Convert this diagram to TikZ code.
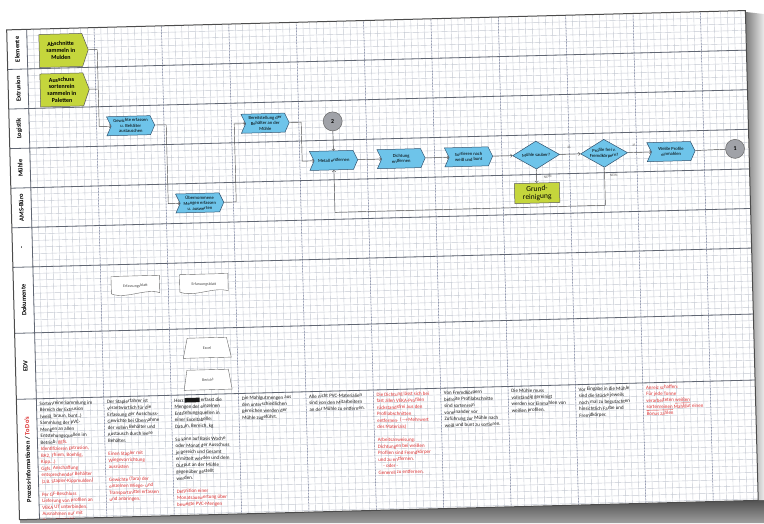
\documentclass[tikz,border=0pt]{standalone}
\usepackage{fontspec}
\setmainfont{Carlito}
\usetikzlibrary{shapes.symbols,shapes.geometric}
\definecolor{procblue}{RGB}{110,196,234}
\definecolor{procedge}{RGB}{50,82,110}
\definecolor{elemgreen}{RGB}{197,214,60}
\definecolor{connfill}{RGB}{160,162,168}
\definecolor{todored}{RGB}{220,48,48}
\definecolor{gridgrey}{RGB}{196,201,210}
\definecolor{laneline}{RGB}{96,102,114}
\definecolor{divblue}{RGB}{66,76,120}
\newcommand{\redtxt}[1]{\textcolor{todored}{#1}}
\tikzset{
	gridl/.style={draw=gridgrey, line width=0.4pt},
	lane/.style={draw=laneline, line width=0.8pt},
	coldiv/.style={draw=divblue, line width=0.5pt, densely dotted},
	lanelabel/.style={rotate=90, inner sep=0pt, font=\fontsize{6.5}{7}\selectfont\bfseries},
	elem/.style={shape=signal, signal to=east, signal pointer angle=140, fill=elemgreen, draw=black!65, line width=0.5pt, minimum width=49pt, minimum height=33pt, inner sep=0.5pt, align=center, font=\fontsize{6}{6.8}\selectfont\bfseries},
	proc/.style={shape=signal, signal to=east, signal from=west, signal pointer angle=130, fill=procblue, draw=procedge, line width=0.5pt, minimum width=48pt, minimum height=19pt, inner sep=0.5pt, align=center, font=\fontsize{4.6}{5.4}\selectfont},
	dec/.style={diamond, aspect=1.7, fill=procblue, draw=procedge, line width=0.5pt, minimum width=47pt, minimum height=28pt, inner sep=0pt, align=center, font=\fontsize{4.6}{5.4}\selectfont},
	conn/.style={circle, fill=connfill, draw=black!60, line width=0.5pt, minimum size=19pt, inner sep=0pt, font=\fontsize{6}{7}\selectfont\bfseries},
	docu/.style={minimum width=48pt, minimum height=17pt, inner sep=0pt},
	docline/.style={fill=white, draw=black!60, line width=0.4pt},
	doctext/.style={inner sep=0pt, font=\fontsize{4}{5}\selectfont, text=black!70},
	sysin/.style={trapezium, trapezium left angle=72, trapezium right angle=72, trapezium stretches=true, fill=white, draw=black!60, line width=0.4pt, minimum width=48pt, minimum height=20pt, inner sep=0pt, font=\fontsize{4}{5}\selectfont, text=black!70},
	flow/.style={draw=black!70, line width=0.45pt},
	yn/.style={inner sep=0.5pt, font=\fontsize{3.8}{4}\selectfont, text=black!60},
	note/.style={anchor=north west, align=left, inner sep=0pt, font=\fontsize{5}{6.5}\selectfont, text=black!90},
}
\begin{document}
\begin{tikzpicture}[x=1pt,y=-1pt]
	\useasboundingbox (0,0) rectangle (764,523);
	% shadow
	\shade[top color=black!75, bottom color=black!38] (20,523) -- (20,517) -- (764,495) -- (764,523) -- cycle;
	\shade[left color=black!50, right color=black!8] (746,12) -- (764,14) -- (764,500) -- (754,500) -- cycle;
	\begin{scope}[rotate around={1.5:(387,267)}, transform shape]
		\fill[white] (13,20) rectangle (752,510); % sheet
		\foreach \gx in {0,...,106} \draw[gridl] ({33+6.74*\gx},20) -- ({33+6.74*\gx},510);
		\foreach \gy in {1,...,74} \draw[gridl] (33,{20+6.6*\gy}) -- (752,{20+6.6*\gy});
		\foreach \k in {1,...,10} \draw[coldiv] ({33+67.4*\k},20) -- ({33+67.4*\k},510);
		\foreach \ly in {59.6,99.2,138.8,178.4,218,257.6,323.6,389.6} \draw[lane] (13,\ly) -- (752,\ly);
		\draw[lane] (33,20) -- (33,510);
		\draw[line width=1pt, draw=black!70] (13,20) rectangle (752,510);

		% lanes
		\node[lanelabel] (lElem) at (23,39.8) {Elemente};
		\node[lanelabel] (lExtr) at (23,79.4) {Extrusion};
		\node[lanelabel] (lLog) at (23,119) {Logistik};
		\node[lanelabel] (lMuehle) at (23,158.6) {Mühle};
		\node[lanelabel] (lAms) at (23,198.2) {AMS-Büro};
		\node[lanelabel] (lLeer) at (23,237.8) {-};
		\node[lanelabel] (lDok) at (23,290.6) {Dokumente};
		\node[lanelabel] (lEdv) at (23,356.6) {EDV};
		\node[lanelabel] (lInfo) at (23,450) {Prozess-Informationen / \redtxt{To Do's}};

		% process
		\node[elem] (elemMulden) at (66.5,42) {Abschnitte\\sammeln in\\Mulden};
		\node[elem] (elemPaletten) at (66.5,81.5) {Ausschuss\\sortenrein\\sammeln in\\Paletten};
		\node[proc] (gewichte) at (134.5,119) {Gewichte erfassen\\u. Behälter\\austauschen};
		\node[proc] (mengen) at (201.5,198) {Übernommene\\Mengen erfassen\\u. auswerten};
		\node[proc] (bereit) at (269,120) {Bereitstellung der\\Behälter an der\\Mühle};
		\node[conn] (con2) at (336.5,120) {2};
		\node[proc] (metall) at (336.5,159) {Metall entfernen};
		\node[proc] (dichtung) at (404,159) {Dichtung\\entfernen};
		\node[proc] (sortieren) at (471.5,159) {Sortieren nach\\weiß und bunt};
		\node[dec] (sauber) at (539,159) {Mühle sauber?};
		\node[draw=black!65, fill=elemgreen, line width=0.5pt, minimum width=45pt, minimum height=20pt, inner sep=0pt, align=center, font=\fontsize{7.5}{8}\selectfont] (grundrein) at (539,197) {Grund-\\reinigung};
		\node[dec] (fremd) at (607,159) {Profile frei v.\\Fremdkörpern?};
		\node[proc] (einmahlen) at (674,159) {Weiße Profile\\einmahlen};
		\node[conn] (con1) at (738,158) {1};

		\node[yn] (ja1) at (572,152) {JA};
		\node[yn] (ja2) at (637,152) {JA};
		\node[yn] (nein1) at (550,181) {NEIN};
		\node[yn] (nein2) at (616,181) {NEIN};

		% connectors
		\coordinate (b1) at (103,42); \coordinate (b2) at (103,81.5); \coordinate (b3) at (103,119);
		\draw[flow,->] (elemMulden.east) -- (b1) -- (b3) -- (gewichte.west);
		\draw[flow] (elemPaletten.east) -- (b2);
		\coordinate (b4) at (170,119); \coordinate (b5) at (170,198);
		\draw[flow,->] (gewichte.east) -- (b4) -- (b5) -- (mengen.west);
		\coordinate (b6) at (238,198); \coordinate (b7) at (238,120);
		\draw[flow,->] (mengen.east) -- (b6) -- (b7) -- (bereit.west);
		\coordinate (b8) at (305,120); \coordinate (b9) at (305,159);
		\draw[flow,->] (bereit.east) -- (b8) -- (b9) -- (metall.west);
		\draw[flow,->] (con2) -- (metall);
		\draw[flow,->] (metall) -- (dichtung);
		\draw[flow,->] (dichtung) -- (sortieren);
		\draw[flow,->] (sortieren) -- (sauber);
		\draw[flow,->] (sauber) -- (fremd);
		\draw[flow,->] (sauber) -- (grundrein);
		\draw[flow,->] (fremd) -- (einmahlen);
		\draw[flow] (einmahlen) -- (con1);
		\coordinate (b10) at (607,211); \coordinate (b11) at (336.5,211);
		\draw[flow,->] (fremd.south) -- (b10) -- (b11) -- (metall.south);

		% documents
		\foreach \d/\px in {erfass1/135,erfass2/203.5} {
			\node[docu] (\d) at (\px,278) {};
			\filldraw[docline] (\d.north west) -- (\d.north east) -- (\d.south east) .. controls +(-14,-5) and +(14,6) .. (\d.south west) -- cycle;
			\node[doctext] (\d txt) at ([yshift=-1.5pt]\d.center) {Erfassungsblatt};
		}
		\node[sysin] (excel) at (205,343) {Excel};
		\node[sysin] (bericht) at (205,375) {Bericht};

		% process information
		\begin{scope}
			\clip (13,20) rectangle (752,510);
			\node[note] (note1) at (36,392.5) {Sortenreine Sammlung im\\Bereich der Extrusion\\(weiß, braun, bunt..)\\Sammlung der PVC-\\Mengen an allen\\Entstehungsquellen im\\Betrieb; \redtxt{ggfs.}\\\redtxt{Identifizieren Extrusion,}\\\redtxt{BA2, Thiem, Boehlig,}\\\redtxt{Kipp...)}\\\redtxt{Ggfs. Anschaffung}\\\redtxt{entsprechender Behälter}\\\redtxt{(z.B. Stapler-Kippmulden)}\\[6.5pt]\redtxt{Per GF-Beschluss}\\\redtxt{Lieferung von Profilen an}\\\redtxt{VEKA UT unterbinden.}\\\redtxt{Ausnahmen nur mit}\\\redtxt{Zustimmung GF.}};
			\node[note] (note2) at (103.4,392.5) {Der Staplerfahrer ist\\verantwortlich für die\\Erfassung der Ausschuss-\\Gewichte bei Übernahme\\der vollen Behälter und\\Austausch durch leere\\Behälter.\\[6.5pt]\redtxt{Einen Stapler mit}\\\redtxt{Wiegevorrichtung}\\\redtxt{ausrüsten}\\[6.5pt]\redtxt{Gewichte (Tara) der}\\\redtxt{einzelnen Wiege- und}\\\redtxt{Transportmittel erfassen}\\\redtxt{und anbringen.}};
			\node[note] (note3) at (170.8,392.5) {Herr \rule[-0.6pt]{15pt}{4.5pt} erfasst die\\Mengen der einzelnen\\Entstehungsquellen in\\einer Exceltabelle:\\Datum, Bereich, kg\\[6.5pt]So kann auf Basis Woche\\oder Monat der Ausschuss\\je Bereich und Gesamt\\ermittelt werden und dem\\Output an der Mühle\\gegenüber gestellt\\werden.\\[6.5pt]\redtxt{Definition einer}\\\redtxt{Monatsauswertung über}\\\redtxt{bewegte PVC-Mengen}};
			\node[note] (note4) at (238.2,392.5) {Die Mahlgutmengen aus\\den unterschiedlichen\\Bereichen werden der\\Mühle zugeführt.};
			\node[note] (note5) at (305.6,392.5) {Alle nicht PVC-Materialien\\sind von den Mitarbeitern\\an der Mühle zu entfernen.};
			\node[note, text=todored] (note6) at (373,392.5) {Die Dichtung lässt sich bei\\fast allen VEKA-Profilen\\rückstandsfrei aus den\\Profilabschnitten\\entfernen. ($\rightarrow$Mehrwert\\des Materials)\\[6.5pt]Arbeitsanweisung:\\Dichtungen bei weißen\\Profilen sind Fremdkörper\\und zu entfernen.\\\quad - oder -\\Generell zu entfernen.};
			\node[note] (note7) at (440.4,392.5) {Von Fremdkörpern\\befreite Profilabschnitte\\sind sortenrein\\voneinander vor\\Zuführung zur Mühle nach\\weiß und bunt zu sortieren.};
			\node[note] (note8) at (507.8,392.5) {Die Mühle muss\\vollständig gereinigt\\werden vor Einmahlen von\\weißen Profilen.};
			\node[note] (note9) at (575.2,392.5) {Vor Eingabe in die Mühle\\sind die Stücke jeweils\\noch mal zu begutachten\\hinsichtlich Farbe und\\Fremdkörper.};
			\node[note, text=todored] (note10) at (642.6,392.5) {Anreiz schaffen:\\Für jede Tonne\\verarbeiteten \underline{weißen}\\\underline{sortenreinen} Mahlgut einen\\Bonus zahlen};
		\end{scope}
	\end{scope}
\end{tikzpicture}
\end{document}
